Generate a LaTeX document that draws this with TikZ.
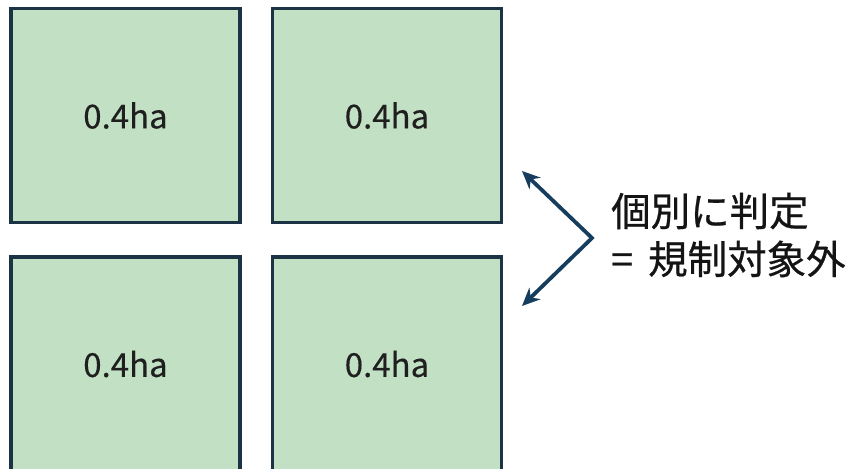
\documentclass[tikz,border=0pt]{standalone}
\usepackage{fontspec}
\setmainfont{Noto Sans CJK JP}
\newfontfamily\capfont[FakeBold=0.6]{Noto Sans CJK JP}
\newfontfamily\areafont[FakeBold=0.3]{Noto Sans CJK JP}
\usetikzlibrary{arrows.meta}
\definecolor{plotfill}{HTML}{C2E0C3}
\definecolor{plotedge}{HTML}{1C3346}
\definecolor{arrowblue}{HTML}{163C5E}
\tikzset{
  plot/.style={draw=plotedge, line width=3.6pt, fill=plotfill, minimum width=229pt,
    minimum height=214pt, inner sep=0pt, font=\areafont\fontsize{33}{40}\selectfont, text=black!88},
  judge/.style={draw=arrowblue, line width=3.8pt, line join=miter,
    {Stealth[length=18pt,width=16pt]}-{Stealth[length=18pt,width=16pt]}},
}
\begin{document}
\begin{tikzpicture}[x=1pt,y=-1pt]
\useasboundingbox (0,0) rectangle (850,468);
% four 0.4 ha parcels
\node[plot] (a) at (125.5,115.5) {0.4ha};
\node[plot] (b) at (387,115.5) {0.4ha};
\node[plot] (c) at (125.5,364) {0.4ha};
\node[plot] (d) at (387,364) {0.4ha};
% bracket arrow pointing at both rows
\coordinate (v) at (592,238);
\coordinate (up) at (522,171);
\coordinate (dn) at (522,306);
\draw[judge] (up) -- (v) -- (dn);
% caption
\node[anchor=west, align=left, inner sep=0pt, font=\capfont\fontsize{39.5}{48}\selectfont, text=black!92] (t) at (611,235) {個別に判定\\=\hspace{0.38em}規制対象外};
\end{tikzpicture}
\end{document}
